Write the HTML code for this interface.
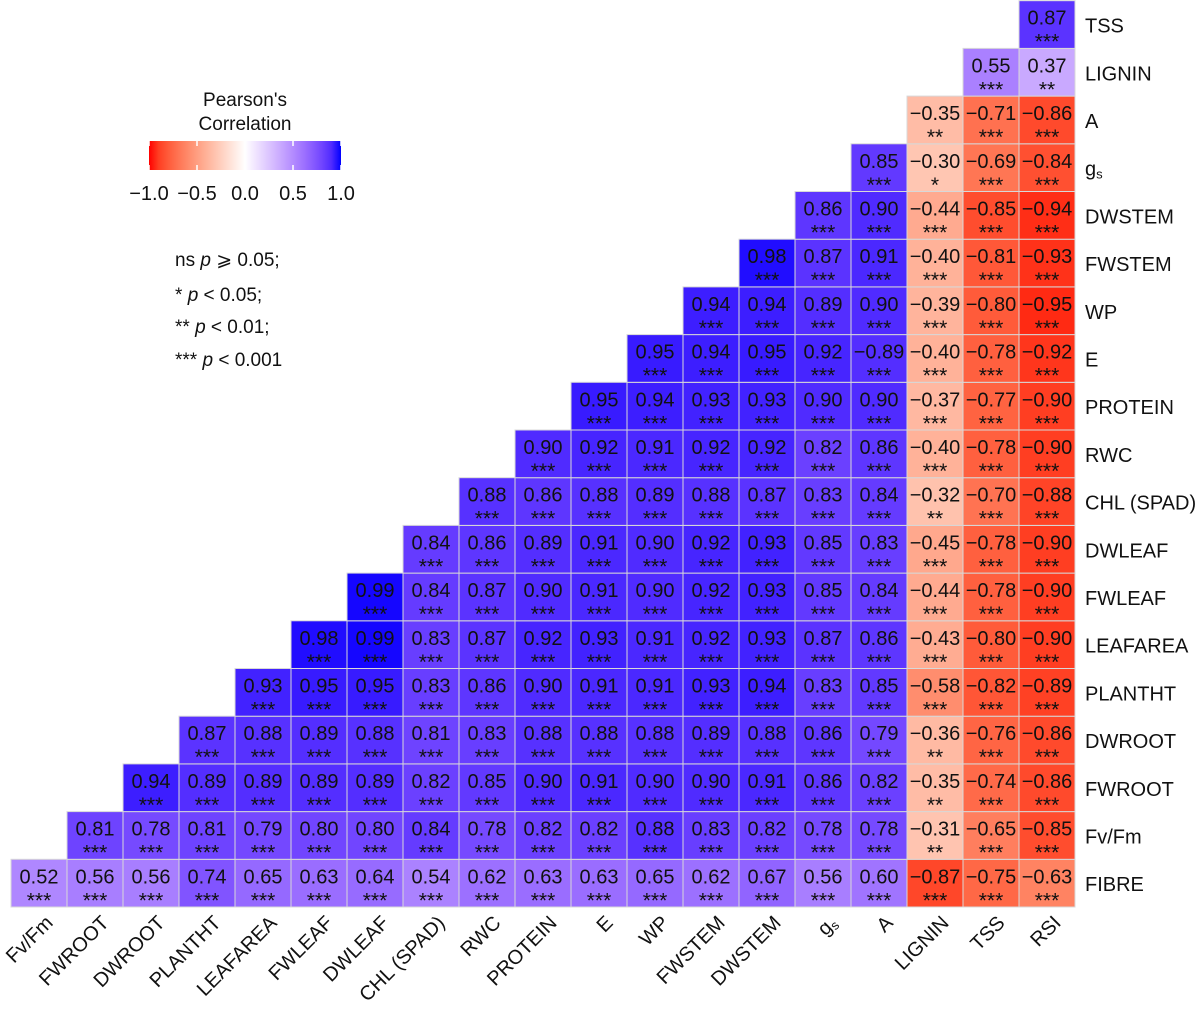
<!DOCTYPE html>
<html><head><meta charset="utf-8"><style>
html,body{margin:0;padding:0;background:#fff;}
svg text{font-family:"Liberation Sans",Arial,sans-serif;fill:#111;}
</style></head><body>
<svg id="chart" width="1200" height="1014" xmlns="http://www.w3.org/2000/svg">
<defs>
<linearGradient id="grad" x1="0" x2="1" y1="0" y2="0"></linearGradient>
</defs>
<g id="cells"></g>
<g id="rowlabels"></g>
<g id="collabels"></g>
<g id="legend">
<text x="245" y="106" font-size="19" text-anchor="middle">Pearson's</text>
<text x="245" y="130" font-size="19" text-anchor="middle">Correlation</text>
<rect x="149" y="141" width="192" height="29" fill="url(#grad)"/>
<g id="legendticks"></g>
</g>
<g font-size="19">
<text x="175" y="266">ns <tspan font-style="italic">p</tspan> ⩾ 0.05;</text>
<text x="175" y="301">* <tspan font-style="italic">p</tspan> &lt; 0.05;</text>
<text x="175" y="333">** <tspan font-style="italic">p</tspan> &lt; 0.01;</text>
<text x="175" y="366">*** <tspan font-style="italic">p</tspan> &lt; 0.001</text>
</g>
</svg>
<script>
const colLabels = ["Fv/Fm","FWROOT","DWROOT","PLANTHT","LEAFAREA","FWLEAF","DWLEAF","CHL (SPAD)","RWC","PROTEIN","E","WP","FWSTEM","DWSTEM","gs","A","LIGNIN","TSS","RSI"];
// rows listed bottom (FIBRE) to top (TSS); row r holds columns r..18
const rowLabels = ["FIBRE","Fv/Fm","FWROOT","DWROOT","PLANTHT","LEAFAREA","FWLEAF","DWLEAF","CHL (SPAD)","RWC","PROTEIN","E","WP","FWSTEM","DWSTEM","gs","A","LIGNIN","TSS"];
const rowValues = [
 [0.52,0.56,0.56,0.74,0.65,0.63,0.64,0.54,0.62,0.63,0.63,0.65,0.62,0.67,0.56,0.60,-0.87,-0.75,-0.63],
 [0.81,0.78,0.81,0.79,0.80,0.80,0.84,0.78,0.82,0.82,0.88,0.83,0.82,0.78,0.78,-0.31,-0.65,-0.85],
 [0.94,0.89,0.89,0.89,0.89,0.82,0.85,0.90,0.91,0.90,0.90,0.91,0.86,0.82,-0.35,-0.74,-0.86],
 [0.87,0.88,0.89,0.88,0.81,0.83,0.88,0.88,0.88,0.89,0.88,0.86,0.79,-0.36,-0.76,-0.86],
 [0.93,0.95,0.95,0.83,0.86,0.90,0.91,0.91,0.93,0.94,0.83,0.85,-0.58,-0.82,-0.89],
 [0.98,0.99,0.83,0.87,0.92,0.93,0.91,0.92,0.93,0.87,0.86,-0.43,-0.80,-0.90],
 [0.99,0.84,0.87,0.90,0.91,0.90,0.92,0.93,0.85,0.84,-0.44,-0.78,-0.90],
 [0.84,0.86,0.89,0.91,0.90,0.92,0.93,0.85,0.83,-0.45,-0.78,-0.90],
 [0.88,0.86,0.88,0.89,0.88,0.87,0.83,0.84,-0.32,-0.70,-0.88],
 [0.90,0.92,0.91,0.92,0.92,0.82,0.86,-0.40,-0.78,-0.90],
 [0.95,0.94,0.93,0.93,0.90,0.90,-0.37,-0.77,-0.90],
 [0.95,0.94,0.95,0.92,0.89,-0.40,-0.78,-0.92],
 [0.94,0.94,0.89,0.90,-0.39,-0.80,-0.95],
 [0.98,0.87,0.91,-0.40,-0.81,-0.93],
 [0.86,0.90,-0.44,-0.85,-0.94],
 [0.85,-0.30,-0.69,-0.84],
 [-0.35,-0.71,-0.86],
 [0.55,0.37],
 [0.87]
];
// printed label differs from fill in the source figure for this one cell
const labelOverrides = [["E","A","\u22120.89"]];
// significance stars; cells not listed are "***"
const sigExceptions = [["Fv/Fm","LIGNIN","**"],["FWROOT","LIGNIN","**"],["DWROOT","LIGNIN","**"],["CHL (SPAD)","LIGNIN","**"],["gs","LIGNIN","*"],["A","LIGNIN","**"],["LIGNIN","RSI","**"]];
const legendTicks = [-1.0,-0.5,0.0,0.5,1.0];

const NS="http://www.w3.org/2000/svg";
const X0=11, CW=56, YB=907, RH=47.7;
const xc = c => X0 + c*CW;
const yr = r => YB - (r+1)*RH;
const lx = v => 149 + (v+1)/2*192;

function lab2rgb(L,a,b){
  let y=(L+16)/116, x=a/500+y, z=y-b/200;
  const f=t=>{const t3=t*t*t;return t3>0.008856?t3:(t-16/116)/7.787;};
  x=0.95047*f(x); y=f(y); z=1.08883*f(z);
  let r=x*3.2406+y*-1.5372+z*-0.4986, g=x*-0.9689+y*1.8758+z*0.0415, bb=x*0.0557+y*-0.2040+z*1.0570;
  const gm=c=>{c=c>0.0031308?1.055*Math.pow(c,1/2.4)-0.055:12.92*c;return Math.round(Math.max(0,Math.min(1,c))*255);};
  return `rgb(${gm(r)},${gm(g)},${gm(bb)})`;
}
const RED=[53.24,80.09,67.20], BLUE=[32.30,79.19,-107.86], WH=[100,0,0];
function color(v){
  const e=v<0?RED:BLUE, t=Math.min(1,Math.abs(v));
  return lab2rgb(WH[0]+(e[0]-WH[0])*t, WH[1]+(e[1]-WH[1])*t, WH[2]+(e[2]-WH[2])*t);
}
function sigFor(row,col){
  for(const s of sigExceptions) if(s[0]===row&&s[1]===col) return s[2];
  return "***";
}
function labelFor(row,col,v){
  for(const s of labelOverrides) if(s[0]===row&&s[1]===col) return s[2];
  return (v<0?"\u2212":"")+Math.abs(v).toFixed(2);
}

const cells=document.getElementById('cells');
rowValues.forEach((vals,r)=>{
  vals.forEach((v,i)=>{
    const c=r+i;
    const g=document.createElementNS(NS,'g');
    
    
    const rect=document.createElementNS(NS,'rect');
    rect.setAttribute('x',xc(c));rect.setAttribute('y',yr(r));
    rect.setAttribute('width',CW);rect.setAttribute('height',RH);
    rect.setAttribute('fill',color(v));rect.setAttribute('stroke','#d8d8d8');rect.setAttribute('stroke-width','1');
    
    
    g.appendChild(rect);
    const t=document.createElementNS(NS,'text');
    t.setAttribute('x',xc(c)+CW/2);t.setAttribute('y',yr(r)+24);
    t.setAttribute('text-anchor','middle');t.setAttribute('font-size','20');
    t.textContent=labelFor(rowLabels[r],colLabels[c],v);
    
    
    g.appendChild(t);
    const s=document.createElementNS(NS,'text');
    s.setAttribute('x',xc(c)+CW/2);s.setAttribute('y',yr(r)+48);
    s.setAttribute('text-anchor','middle');s.setAttribute('font-size','21');
    s.textContent=sigFor(rowLabels[r],colLabels[c]);
    
    
    g.appendChild(s);
    cells.appendChild(g);
  });
});
function addLabel(parent,txt,attrs){
  const t=document.createElementNS(NS,'text');
  for(const k in attrs) t.setAttribute(k,attrs[k]);
  if(txt==="gs"){t.textContent="g";const sub=document.createElementNS(NS,'tspan');sub.setAttribute('font-size','13');sub.setAttribute('dy','3');sub.textContent="s";t.appendChild(sub);}
  else t.textContent=txt;
  parent.appendChild(t);return t;
}
const rl=document.getElementById('rowlabels');
rowLabels.forEach((l,r)=>{
  const t=addLabel(rl,l,{x:1085,y:yr(r)+RH/2+8,'font-size':20});
  
  
});
const cl=document.getElementById('collabels');
colLabels.forEach((l,c)=>{
  const x=xc(c)+CW/2+15, y=924;
  const t=addLabel(cl,l,{x:x,y:y,'font-size':20,'text-anchor':'end',transform:`rotate(-45 ${x} ${y})`});
  
  
});
const grad=document.getElementById('grad');
for(let i=0;i<=20;i++){
  const v=-1+i*0.1;
  const st=document.createElementNS(NS,'stop');
  st.setAttribute('offset',(i/20).toFixed(3));st.setAttribute('stop-color',color(v));
  grad.appendChild(st);
}
const lt=document.getElementById('legendticks');
legendTicks.forEach(v=>{
  const ln=document.createElementNS(NS,'line');
  ln.setAttribute('x1',lx(v));ln.setAttribute('x2',lx(v));ln.setAttribute('y1',141);ln.setAttribute('y2',146);
  ln.setAttribute('stroke','#fff');ln.setAttribute('stroke-width','1.5');
  
  
  lt.appendChild(ln);
  const ln2=ln.cloneNode();ln2.setAttribute('y1',165);ln2.setAttribute('y2',170);lt.appendChild(ln2);
  const t=document.createElementNS(NS,'text');
  t.setAttribute('x',lx(v));t.setAttribute('y',200);t.setAttribute('text-anchor','middle');t.setAttribute('font-size','20');
  t.textContent=(v<0?"\u2212":"")+Math.abs(v).toFixed(1);
  
  
  lt.appendChild(t);
});
</script>
</body></html>
